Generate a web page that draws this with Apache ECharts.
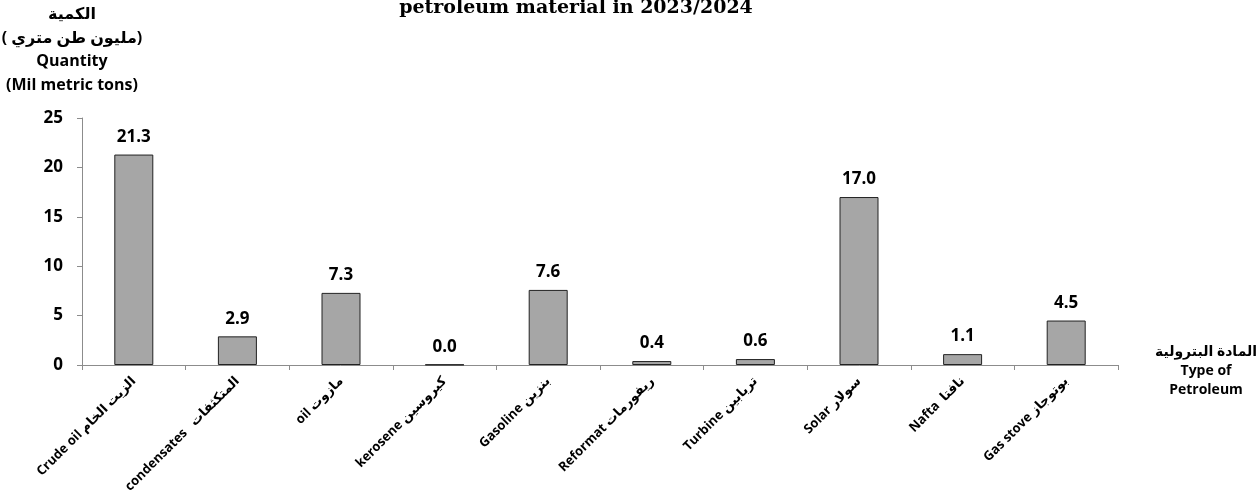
<!DOCTYPE html>
<html>
<head>
<meta charset="utf-8">
<script src="https://cdn.jsdelivr.net/npm/echarts@6/dist/echarts.min.js"></script>
<style>
  html, body { margin: 0; padding: 0; background: #fff; }
  #chart { width: 1260px; height: 491px; }
</style>
</head>
<body>
<div id="chart"></div>
<script>
// data
const categories = [
  'Crude oil الزيت الخام',
  'condensates   المتكثفات',
  'oil مازوت',
  'kerosene كيروسين',
  'Gasoline بنزين',
  'Reformat ريفورمات',
  'Turbine تربابين',
  'Solar سولار',
  'Nafta  نافتا',
  'Gas stove بوتوجاز'
]
const quantities = [21.3, 2.9, 7.3, 0.04, 7.6, 0.4, 0.6, 17.0, 1.1, 4.5]
const yTicks = [0, 5, 10, 15, 20, 25]

const font = '"Open Sans", "DejaVu Sans", sans-serif'
const mChart = echarts.init(document.getElementById('chart'))

const option = {
  animation: false,
  backgroundColor: '#fff',
  grid: {
    left: 82,
    right: 142,
    top: 118,
    bottom: 126,
    containLabel: false,
    outerBoundsMode: 'none'
  },
  xAxis: {
    type: 'category',
    data: categories,
    axisLine: { lineStyle: { color: '#8c8c8c', width: 1 } },
    axisTick: { show: true, length: 5, lineStyle: { color: '#8c8c8c' } },
    axisLabel: {
      interval: 0,
      rotate: 45,
      margin: 14,
      color: '#000',
      fontWeight: 'bold',
      fontSize: 13,
      fontFamily: font
    }
  },
  yAxis: {
    type: 'value',
    min: yTicks[0],
    max: yTicks[yTicks.length - 1],
    interval: 5,
    splitLine: { show: false },
    axisLine: { show: true, lineStyle: { color: '#8c8c8c', width: 1 } },
    axisTick: { show: true, length: 5, lineStyle: { color: '#8c8c8c' } },
    axisLabel: {
      color: '#000',
      fontWeight: 'bold',
      fontSize: 17,
      margin: 19,
      fontFamily: font
    }
  },
  series: [
    {
      type: 'bar',
      data: quantities,
      barWidth: 39,
      itemStyle: {
        color: '#a6a6a6',
        borderColor: '#222',
        borderWidth: 1
      },
      label: {
        show: true,
        position: 'top',
        distance: 9,
        color: '#000',
        fontWeight: 'bold',
        fontSize: 17,
        fontFamily: font,
        formatter: p => p.value.toFixed(1)
      }
    }
  ],
  graphic: [
    {
      type: 'text',
      x: 576,
      y: 18,
      style: {
        text: 'petroleum material in 2023/2024',
        font: 'bold 19px "DejaVu Serif", "Liberation Serif", serif',
        align: 'center',
        verticalAlign: 'bottom',
        fill: '#000'
      }
    },
    {
      type: 'text',
      x: 72,
      y: 3,
      style: {
        text: 'الكمية\n\u200E( مليون طن متري)\u200E\nQuantity\n(Mil metric tons)',
        font: 'bold 16px ' + font,
        lineHeight: 23.5,
        align: 'center',
        fill: '#000'
      }
    },
    {
      type: 'text',
      x: 1206,
      y: 343,
      style: {
        text: 'المادة البترولية\nType of\nPetroleum',
        font: 'bold 14px ' + font,
        lineHeight: 19,
        align: 'center',
        fill: '#000'
      }
    }
  ]
}
mChart.setOption(option, true)
</script>
</body>
</html>
